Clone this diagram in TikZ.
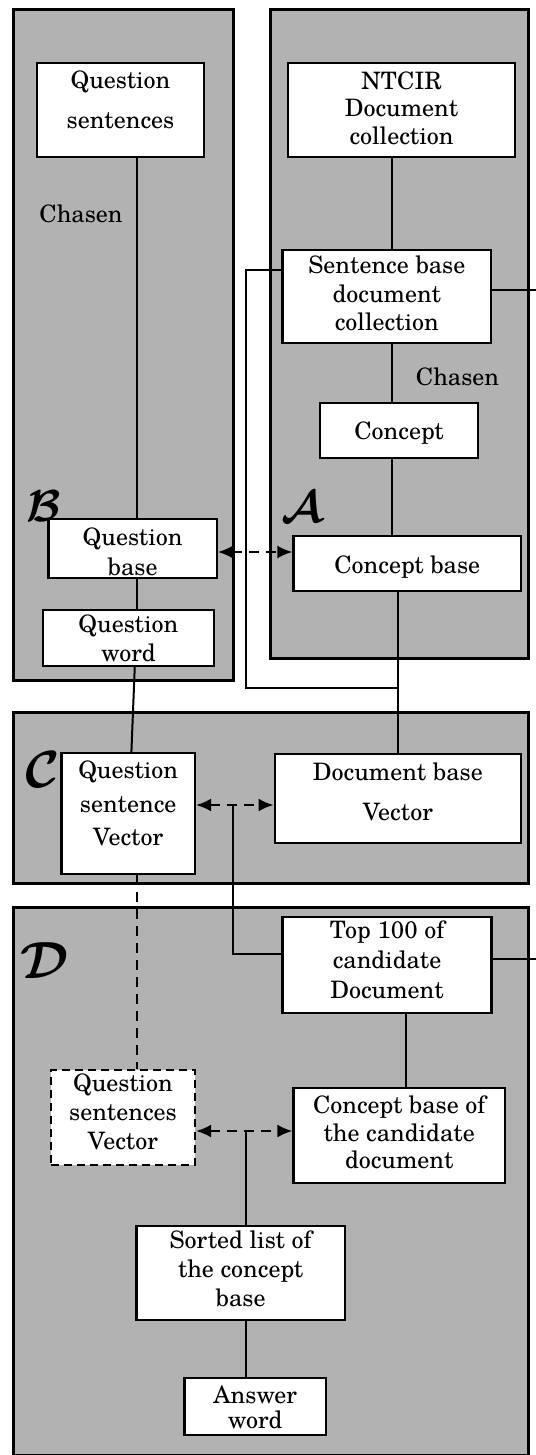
\documentclass[tikz,border=0pt]{standalone}
\usepackage{fontspec}
\newfontfamily\scholafont{texgyreschola-regular}[Extension=.otf]
\usetikzlibrary{arrows.meta}
\definecolor{panelgray}{RGB}{178,178,178}
\newcommand\mybox[9]{%
  \node[box,#6,minimum width={#4-#2},minimum height={#5-#3}] (#1) at ({(#2+#4)/2},{(#3+#5)/2}) {};
  \node[txt=#8] (#1-t) at ({(#2+#4)/2},#7) {#9};}
\newcommand\bigcal[2]{\scalebox{#1}{$\mathcal{#2}$}}
\begin{document}
\begin{tikzpicture}[x=1pt,y=-1pt,
  panel/.style={draw=black,line width=3pt,fill=panelgray,inner sep=0pt},
  box/.style={draw=black,line width=2.4pt,fill=white,inner sep=0pt},
  dashed box/.style={dash pattern=on 8pt off 5pt},
  txt/.style={align=center,inner sep=0pt,font=\scholafont\fontsize{24}{#1}\selectfont},
  txt/.default=28,
  conn/.style={line width=2pt},
  dconn/.style={line width=2pt,dash pattern=on 10pt off 7pt},
  darrow/.style={line width=2pt,dash pattern=on 10pt off 7pt,{Latex[length=15pt,width=13pt]}-{Latex[length=15pt,width=13pt]}},
  letter/.style={font=\boldmath\fontsize{24.88}{25}\selectfont,inner sep=0pt}
]
\useasboundingbox (0,0) rectangle (535,1455);
% panels
\node[panel,minimum width=219.5pt,minimum height=670pt] (panelB) at (123.25,345) {};
\node[panel,minimum width=258pt,minimum height=648pt] (panelA) at (399,334) {};
\node[panel,minimum width=514.5pt,minimum height=171pt] (panelC) at (270.75,797.5) {};
\node[panel,minimum width=514.5pt,minimum height=548pt] (panelD) at (270.75,1181) {};
% panel letters
\node[letter] (labB) at (44,506) {\bigcal{1.8}{B}};
\node[letter] (labA) at (302,507) {\bigcal{1.8}{A}};
\node[letter] (labC) at (43,770) {\bigcal{2.1}{C}};
\node[letter] (labD) at (45,961) {\bigcal{2.1}{D}};
% boxes
\mybox{QS}{37}{63}{204}{157}{}{100}{40}{Question\\sentences}
\mybox{NTCIR}{288}{63}{515}{157}{}{108}{27.5}{NTCIR\\Document\\collection}
\mybox{SB}{282.6}{250}{491}{343}{}{293.5}{28.5}{Sentence base\\document\\collection}
\mybox{Concept}{320}{403}{478}{458}{}{433}{28}{Concept}
\mybox{QB}{48.5}{519}{216.7}{578}{}{552}{30}{Question\\base}
\mybox{CB}{293.5}{536}{521}{591}{}{567}{28}{Concept base}
\mybox{QW}{42.7}{610}{214}{666}{}{638.5}{29}{Question\\word}
\mybox{QSV}{61.4}{753}{195}{874}{}{803.5}{33.5}{Question\\sentence\\Vector}
\mybox{DBV}{274.7}{754}{521}{843}{}{792}{40}{Document base\\Vector}
\mybox{Top}{282.6}{917}{491.5}{1012.7}{}{960}{30}{Top 100 of\\candidate\\Document}
\mybox{CBC}{293.5}{1087.7}{505}{1183}{}{1132.7}{27.5}{Concept base of\\the candidate\\document}
\mybox{QSVD}{51}{1070}{195}{1165}{dashed box}{1112}{29}{Question\\sentences\\Vector}
\mybox{SL}{136.5}{1226}{344.7}{1320}{}{1269}{29}{Sorted list of\\the concept\\base}
\mybox{AW}{184.3}{1378}{326}{1435}{}{1407.5}{25}{Answer\\word}
% labels
\node[txt] (ch1) at (81,214) {Chasen};
\node[txt] (ch2) at (457.5,377) {Chasen};
% helper coordinates
\coordinate (xq) at (136.5,0);
\coordinate (xa) at (392,0);
\coordinate (xl) at (245.7,0);
\coordinate (xr) at (536,0);
\coordinate (xt) at (233,0);
\coordinate (xc) at (406,0);
\coordinate (loopy) at (0,687.7);
\coordinate (y1) at (0,552);
\coordinate (y2) at (0,805);
\coordinate (y3) at (0,1131);
\coordinate (sbl) at ([yshift=26.8pt]SB.west);
\coordinate (sbr) at ([yshift=6.5pt]SB.east);
\coordinate (t1) at ([yshift=10.85pt]Top.west);
\coordinate (t2) at ([yshift=5.85pt]Top.east);
% connectors
\draw[conn] (QS.south -| xq) -- (QB.north -| xq);
\draw[conn] (QB.south -| xq) -- (QW.north -| xq);
\draw[conn] ([xshift=6.4pt]QW.south) -- ([xshift=3.2pt]QSV.north);
\draw[dconn] (QSV.south -| xq) -- (QSVD.north -| xq);
\draw[conn] (NTCIR.south -| xa) -- (SB.north -| xa);
\draw[conn] (SB.south -| xa) -- (Concept.north -| xa);
\draw[conn] (Concept.south -| xa) -- (CB.north -| xa);
\draw[conn] (CB.south -| DBV.north) -- (DBV.north);
\draw[conn] (sbl) -| (xl |- loopy) -- (DBV.north |- loopy);
\draw[conn] (sbr) -- (sbr -| xr);
\draw[darrow] (QB.east |- y1) -- (CB.west |- y1);
\draw[darrow] (QSV.east |- y2) -- (DBV.west |- y2);
\draw[darrow] (QSVD.east |- y3) -- (CBC.west |- y3);
\draw[conn] (t1) -| (xt |- y2);
\draw[conn] (t2) -- (t2 -| xr);
\draw[conn] (Top.south -| xc) -- (CBC.north -| xc);
\draw[conn] (xl |- y3) -- (SL.north -| xl);
\draw[conn] (SL.south -| xl) -- (AW.north -| xl);
\end{tikzpicture}
\end{document}
